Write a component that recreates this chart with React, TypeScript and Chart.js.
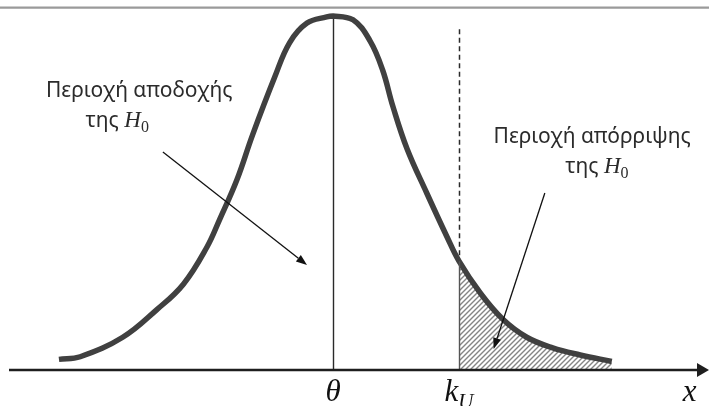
import React, { useEffect, useRef } from "react";
import { Chart, registerables } from "chart.js";

Chart.register(...registerables);

// Curve of the test statistic's density (x in σ-units around θ, y = density)
const xValues = [-3.48, -3.21, -2.67, -2.24, -1.9, -1.6, -1.44, -1.22, -1.02, -0.74, -0.55, -0.33, -0.08, 0, 0.25, 0.47, 0.63, 0.76, 0.94, 1.19, 1.45, 1.6, 1.87, 2.16, 2.46, 2.79, 3.14, 3.54];
const density = [0.012, 0.015, 0.037, 0.068, 0.097, 0.139, 0.17, 0.215, 0.266, 0.331, 0.37, 0.392, 0.399, 0.4, 0.396, 0.372, 0.339, 0.298, 0.25, 0.2, 0.15, 0.123, 0.087, 0.057, 0.037, 0.025, 0.017, 0.0096];
const theta = 0;
const kU = 1.6;
const peak = 0.4;

// Text
const acceptLabel = ["Περιοχή αποδοχής", "της "];
const rejectLabel = ["Περιοχή απόρριψης", "της "];
const hypothesis = ["H", "0"];
const axisLabels = ["θ", "k", "U", "x"];

function makeHatch(): CanvasPattern | string {
  const s = 5;
  const c = document.createElement("canvas");
  c.width = s;
  c.height = s;
  const g = c.getContext("2d");
  if (!g) return "#bbb";
  g.fillStyle = "#ffffff";
  g.fillRect(0, 0, s, s);
  g.strokeStyle = "#858585";
  g.lineWidth = 1.4;
  g.beginPath();
  g.moveTo(0, s);
  g.lineTo(s, 0);
  g.moveTo(-1, 1);
  g.lineTo(1, -1);
  g.moveTo(s - 1, s + 1);
  g.lineTo(s + 1, s - 1);
  g.stroke();
  return g.createPattern(c, "repeat") || "#bbb";
}

function arrow(ctx: CanvasRenderingContext2D, x1: number, y1: number, x2: number, y2: number) {
  const a = Math.atan2(y2 - y1, x2 - x1);
  const len = 11;
  const hw = 4;
  const bx = x2 - len * Math.cos(a);
  const by = y2 - len * Math.sin(a);
  ctx.strokeStyle = "#111";
  ctx.lineWidth = 1.3;
  ctx.beginPath();
  ctx.moveTo(x1, y1);
  ctx.lineTo(bx, by);
  ctx.stroke();
  ctx.fillStyle = "#111";
  ctx.beginPath();
  ctx.moveTo(x2, y2);
  ctx.lineTo(bx + hw * Math.sin(a), by - hw * Math.cos(a));
  ctx.lineTo(bx - hw * Math.sin(a), by + hw * Math.cos(a));
  ctx.closePath();
  ctx.fill();
}

const SANS = '"Noto Sans", "Open Sans", sans-serif';
const SERIF = '"Liberation Serif", "DejaVu Serif", serif';

function hypLine(ctx: CanvasRenderingContext2D, prefix: string, cx: number, by: number) {
  ctx.font = `21px ${SANS}`;
  const w1 = ctx.measureText(prefix).width;
  ctx.font = `italic 23px ${SERIF}`;
  const w2 = ctx.measureText(hypothesis[0]).width;
  ctx.font = `16px ${SERIF}`;
  const w3 = ctx.measureText(hypothesis[1]).width;
  let x0 = cx - (w1 + w2 + w3) / 2;
  ctx.textAlign = "left";
  ctx.font = `21px ${SANS}`;
  ctx.fillText(prefix, x0, by);
  x0 += w1;
  ctx.font = `italic 23px ${SERIF}`;
  ctx.fillText(hypothesis[0], x0, by);
  x0 += w2;
  ctx.font = `16px ${SERIF}`;
  ctx.fillText(hypothesis[1], x0, by + 5);
}

const annotations = {
  id: "annotations",
  beforeDatasetsDraw(chart: any) {
    const { ctx, scales } = chart;
    const xs = scales.x;
    const ys = scales.y;
    ctx.save();
    // top rule
    ctx.strokeStyle = "#9a9a9a";
    ctx.lineWidth = 2.2;
    ctx.beginPath();
    ctx.moveTo(0, 7.7);
    ctx.lineTo(chart.width, 7.7);
    ctx.stroke();
    // θ line
    const tx = Math.round(xs.getPixelForValue(theta)) + 0.5;
    ctx.strokeStyle = "#2a2a2a";
    ctx.lineWidth = 1.4;
    ctx.beginPath();
    ctx.moveTo(tx, ys.getPixelForValue(peak) + 2);
    ctx.lineTo(tx, ys.getPixelForValue(0));
    ctx.stroke();
    // dashed line at kU
    const kx = Math.round(xs.getPixelForValue(kU)) + 0.5;
    const kIdx = xValues.indexOf(kU);
    ctx.setLineDash([5, 3.5]);
    ctx.lineWidth = 1.5;
    ctx.beginPath();
    ctx.moveTo(kx, ys.getPixelForValue(0.385));
    ctx.lineTo(kx, ys.getPixelForValue(density[kIdx]));
    ctx.stroke();
    ctx.setLineDash([]);
    ctx.restore();
  },
  afterDatasetsDraw(chart: any) {
    const { ctx, scales } = chart;
    const xs = scales.x;
    const ys = scales.y;
    const X = (v: number) => xs.getPixelForValue(v);
    const Y = (v: number) => ys.getPixelForValue(v);
    ctx.save();
    // boundary of rejection region
    const kx = Math.round(X(kU)) + 0.5;
    const kIdx = xValues.indexOf(kU);
    ctx.strokeStyle = "#555";
    ctx.lineWidth = 1.4;
    ctx.beginPath();
    ctx.moveTo(kx, Y(density[kIdx]));
    ctx.lineTo(kx, Y(0));
    ctx.stroke();
    // x-axis with arrow
    const ay = Y(0);
    ctx.strokeStyle = "#1e1e1e";
    ctx.lineWidth = 2.6;
    ctx.beginPath();
    ctx.moveTo(9, ay);
    ctx.lineTo(chart.width - 8, ay);
    ctx.stroke();
    ctx.fillStyle = "#1e1e1e";
    ctx.beginPath();
    ctx.moveTo(chart.width, ay);
    ctx.lineTo(chart.width - 12, ay - 7);
    ctx.lineTo(chart.width - 12, ay + 7);
    ctx.closePath();
    ctx.fill();

    // arrows
    arrow(ctx, X(-2.16), Y(0.2463), X(-0.33), Y(0.1186));
    arrow(ctx, X(2.69), Y(0.2), X(2.04), Y(0.0237));

    // labels
    ctx.fillStyle = "#2b2b2b";
    ctx.textBaseline = "alphabetic";
    ctx.textAlign = "center";
    ctx.font = `21px ${SANS}`;
    ctx.fillText(acceptLabel[0], X(-2.46), Y(0.3085));
    hypLine(ctx, acceptLabel[1], X(-2.74), Y(0.2746));
    ctx.textAlign = "center";
    ctx.font = `21px ${SANS}`;
    ctx.fillText(rejectLabel[0], X(3.29), Y(0.2565));
    hypLine(ctx, rejectLabel[1], X(3.35), Y(0.2226));

    // axis labels
    ctx.fillStyle = "#111";
    const lb = Y(0) + 31;
    ctx.textAlign = "center";
    ctx.font = `italic 31px ${SERIF}`;
    ctx.fillText(axisLabels[0], X(theta), lb);
    const kw = ctx.measureText(axisLabels[1]).width;
    ctx.font = `italic 21px ${SERIF}`;
    const uw = ctx.measureText(axisLabels[2]).width;
    const k0 = X(kU) - (kw + uw) / 2;
    ctx.textAlign = "left";
    ctx.font = `italic 31px ${SERIF}`;
    ctx.fillText(axisLabels[1], k0, lb);
    ctx.font = `italic 21px ${SERIF}`;
    ctx.fillText(axisLabels[2], k0 + kw, lb + 7);
    ctx.textAlign = "center";
    ctx.font = `italic 31px ${SERIF}`;
    ctx.fillText(axisLabels[3], X(4.53), lb);
    ctx.restore();
  },
};

export default function App() {
  const ref = useRef<HTMLCanvasElement | null>(null);
  useEffect(() => {
    if (!ref.current) return;
    const curve = xValues.map((x, i) => ({ x, y: density[i] }));
    const tail = curve.filter((p) => p.x >= kU);
    const chart = new Chart(ref.current, {
      type: "line",
      data: {
        datasets: [
          {
            label: "density",
            data: curve,
            borderColor: "#404040",
            borderWidth: 5.5,
            borderCapStyle: "butt",
            borderJoinStyle: "round",
            pointRadius: 0,
            fill: false,
            tension: 0.4,
            clip: false,
            order: 0,
          } as any,
          {
            label: "rejection",
            data: tail,
            borderWidth: 0,
            borderColor: "rgba(0,0,0,0)",
            backgroundColor: makeHatch(),
            pointRadius: 0,
            fill: "origin",
            tension: 0.4,
            clip: false,
            order: 1,
          } as any,
        ],
      },
      options: {
        responsive: false,
        animation: false,
        devicePixelRatio: 1,
        parsing: false,
        layout: { padding: { left: 18, right: 21.625, top: 16, bottom: 36 } },
        plugins: { legend: { display: false }, tooltip: { enabled: false }, title: { display: false } },
        scales: {
          x: { type: "linear", min: -4, max: 4.5, display: false },
          y: { type: "linear", min: 0, max: peak, display: false },
        },
        events: [],
      },
      plugins: [annotations],
    });
    return () => chart.destroy();
  }, []);
  return (
    <canvas
      ref={ref}
      width={709}
      height={406}
      style={{ position: "absolute", left: 0, top: 0, display: "block", background: "#fff" }}
    />
  );
}
